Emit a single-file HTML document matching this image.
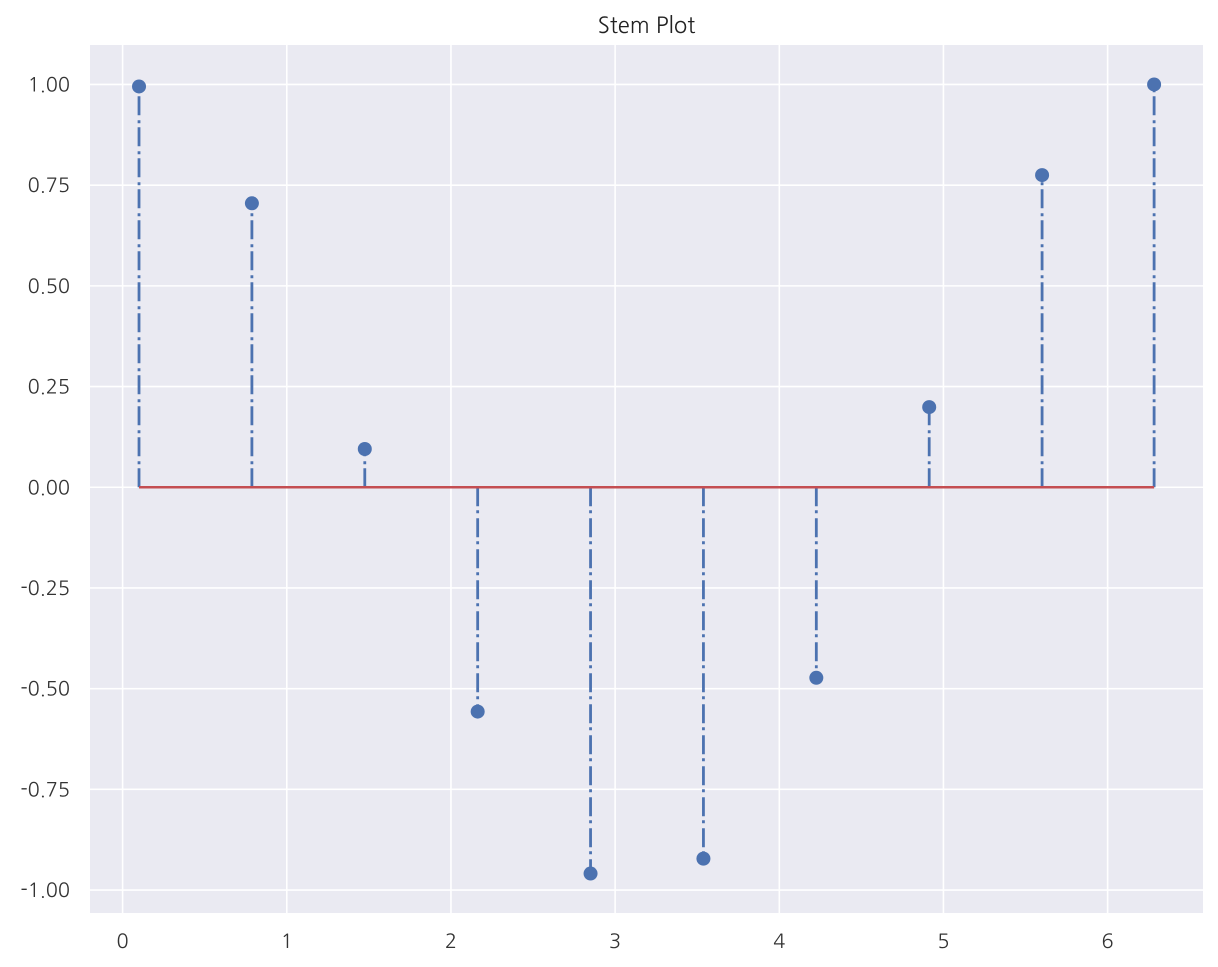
<!DOCTYPE html>
<html><head><meta charset="utf-8"><style>
body{margin:0;background:#fff;}
svg{display:block;font-family:"NanumGothic","Liberation Sans",sans-serif;}
</style></head><body>
<svg id="c" width="1218" height="967"></svg>
<script>
const xValues=[0.1,0.7876,1.4752,2.1628,2.8504,3.538,4.2256,4.9132,5.6008,6.2832];
const yValues=[0.995,0.705,0.095,-0.557,-0.959,-0.922,-0.473,0.199,0.775,1.0];
const xTicks=[0,1,2,3,4,5,6];
const yTicks=[1,0.75,0.5,0.25,0,-0.25,-0.5,-0.75,-1];
const yTickLabels=["1.00","0.75","0.50","0.25","0.00","-0.25","-0.50","-0.75","-1.00"];
const L=90,R=1203,T=45,B=913;
const xMin=-0.1986,xMax=6.581,yMin=-1.057,yMax=1.098;
const sx=v=>L+(v-xMin)/(xMax-xMin)*(R-L);
const sy=v=>B-(v-yMin)/(yMax-yMin)*(B-T);
const NS="http://www.w3.org/2000/svg";
const svg=document.getElementById('c');
function mk(tag,attrs,parent){const e=document.createElementNS(NS,tag);for(const k in attrs)e.setAttribute(k,attrs[k]);(parent||svg).appendChild(e);return e;}
const bg=mk('rect',{x:L,y:T,width:R-L,height:B-T,fill:'#eaeaf2'});


xTicks.forEach(t=>{
  const g=mk('line',{x1:sx(t),x2:sx(t),y1:T,y2:B,stroke:'#fff','stroke-width':1.6});
  
  
  const tx=mk('text',{x:sx(t),y:B+35,'text-anchor':'middle','font-size':20,fill:'#333'});
  tx.textContent=t;
  
  
});
yTicks.forEach((t,i)=>{
  const g=mk('line',{x1:L,x2:R,y1:sy(t),y2:sy(t),stroke:'#fff','stroke-width':1.6});
  
  
  const tx=mk('text',{x:L-20,y:sy(t)+7,'text-anchor':'end','font-size':20,fill:'#333'});
  tx.textContent=yTickLabels[i];
  
  
});
xValues.forEach((x,i)=>{
  const s=mk('line',{x1:sx(x),x2:sx(x),y1:sy(0),y2:sy(yValues[i]),stroke:'#4c72b0','stroke-width':2.8,'stroke-dasharray':'19 4 3 5'});
  
  
});
const base=mk('line',{x1:sx(xValues[0]),x2:sx(xValues[xValues.length-1]),y1:sy(0),y2:sy(0),stroke:'#c44e52','stroke-width':2.6});


xValues.forEach((x,i)=>{
  const c=mk('circle',{cx:sx(x),cy:sy(yValues[i]),r:7,fill:'#4c72b0'});
  
  
});
const title=mk('text',{x:(L+R)/2,y:33,'text-anchor':'middle','font-size':22,fill:'#222'});
title.textContent='Stem Plot';


</script>
</body></html>
